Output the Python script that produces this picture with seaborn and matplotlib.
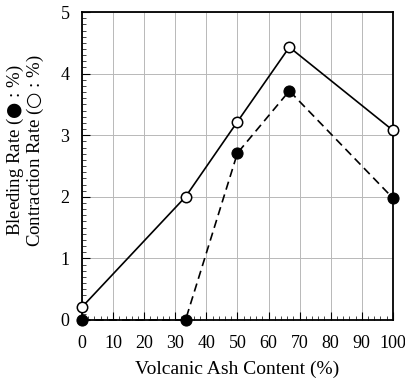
import matplotlib
matplotlib.use("Agg")
import matplotlib.pyplot as plt
import seaborn as sns
import pandas as pd
from matplotlib.ticker import MultipleLocator

ash_content = [0, 33.3, 50, 66.7, 100]
contraction_rate = [0.21, 2.0, 3.22, 4.43, 3.08]
bleeding_rate = [0.0, 0.0, 2.71, 3.72, 1.98]
x_ticks = [0, 10, 20, 30, 40, 50, 60, 70, 80, 90, 100]
y_ticks = [0, 1, 2, 3, 4, 5]

sns.set_theme(style="white")
plt.rcParams["font.family"] = ["Liberation Serif", "DejaVu Sans"]
# circle symbols in the axis label come from DejaVu Sans via mathtext
plt.rcParams["mathtext.fontset"] = "custom"
plt.rcParams["mathtext.rm"] = "DejaVu Sans"
plt.rcParams["mathtext.it"] = "DejaVu Sans"
plt.rcParams["mathtext.bf"] = "DejaVu Sans"

df_c = pd.DataFrame({"ash": ash_content, "rate": contraction_rate})
df_b = pd.DataFrame({"ash": ash_content, "rate": bleeding_rate})

fig = plt.figure(figsize=(4.05, 3.83), dpi=100)
ax = fig.add_axes([0.2025, 0.1645, 0.7675, 0.804])

sns.lineplot(data=df_c, x="ash", y="rate", ax=ax, color="black", lw=1.2,
             marker="o", markersize=7.5, markerfacecolor="white",
             markeredgecolor="black", markeredgewidth=1.1, zorder=4,
             clip_on=False)
sns.lineplot(data=df_b, x="ash", y="rate", ax=ax, color="black", lw=1.2,
             linestyle=(0, (5, 3)), marker="o", markersize=8,
             markerfacecolor="black", markeredgecolor="black", zorder=5,
             clip_on=False)

ax.set_xlim(0, 100)
ax.set_ylim(0, 5)
ax.set_xticks(x_ticks)
ax.set_yticks(y_ticks)
ax.xaxis.set_minor_locator(MultipleLocator(2))
ax.yaxis.set_minor_locator(MultipleLocator(0.1))
ax.grid(True, which="major", color="#b8b8b8", lw=0.7)
ax.tick_params(which="major", direction="in", length=6, width=0.8,
               labelsize=13, colors="black")
ax.tick_params(axis="x", which="major", pad=11)
ax.tick_params(axis="y", which="major", pad=9)
ax.tick_params(which="minor", direction="in", length=3, width=0.6)
ax.tick_params(axis="both", which="both", bottom=True, left=True)
for s in ax.spines.values():
    s.set_color("black")
    s.set_linewidth(1.3)

ax.set_xlabel("Volcanic Ash Content (%)", fontsize=14, color="black", labelpad=6)
ax.set_ylabel("Bleeding Rate ($\\mathrm{●}$ : %)\nContraction Rate ($\\mathrm{○}$ : %)",
              fontsize=13.5, color="black", linespacing=0.92)
ax.yaxis.set_label_coords(-0.115, 0.55)

fig.savefig("out.png", dpi=100)
